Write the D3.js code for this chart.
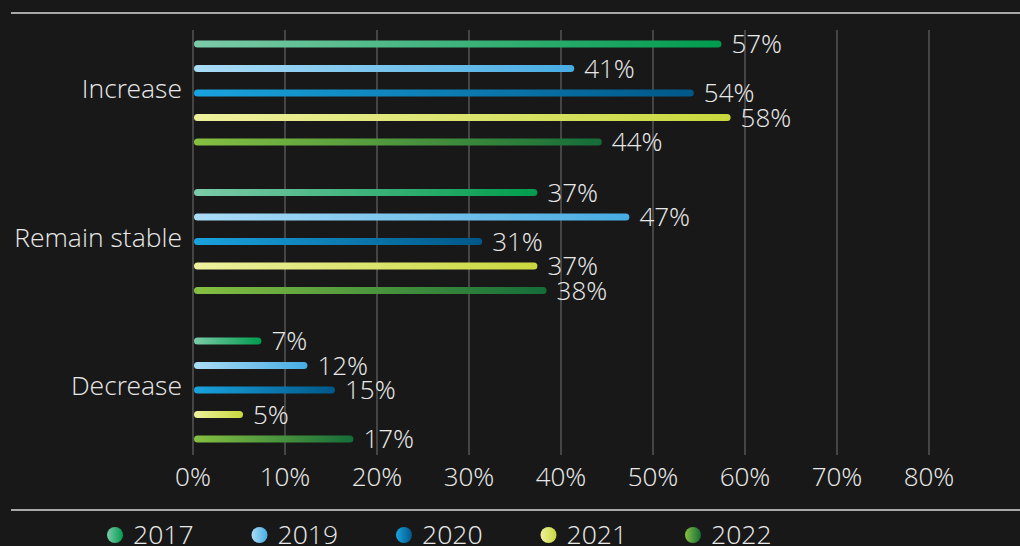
<!DOCTYPE html>
<html>
<head>
<meta charset="utf-8">
<script src="https://cdn.jsdelivr.net/npm/d3@7"></script>
<style>
  html, body { margin: 0; padding: 0; background: #181818; }
  svg { display: block; font-family: "Open Sans Light", "Open Sans", "Noto Sans", sans-serif; font-weight: 300; }
</style>
</head>
<body>
<div id="chart"></div>
<script>
// Data
const categories = ["Increase", "Remain stable", "Decrease"];
const years = ["2017", "2019", "2020", "2021", "2022"];
const values2017 = [57, 37, 7];
const values2019 = [41, 47, 12];
const values2020 = [54, 31, 15];
const values2021 = [58, 37, 5];
const values2022 = [44, 38, 17];
const seriesValues = [values2017, values2019, values2020, values2021, values2022];
const tickValues = [0, 10, 20, 30, 40, 50, 60, 70, 80];

// gradient stops per year: light on the left, dark on the right
const colorsLight = ["#7ccaa9", "#abdcf6", "#1aa3de", "#eef09e", "#86c042"];
const colorsDark = ["#009c4d", "#47ace3", "#005788", "#c9d83e", "#146c38"];

const width = 1020;
const height = 546;

const svg = d3.select("#chart")
    .append("svg")
    .attr("width", width)
    .attr("height", height);

svg.append("rect")
    .attr("width", width)
    .attr("height", height)
    .attr("fill", "#181818");

// gradients
const defs = svg.append("defs");
years.forEach(function(y, i) {
    const g = defs.append("linearGradient")
        .attr("id", "grad" + y)
        .attr("x1", "0%").attr("x2", "100%")
        .attr("y1", "0%").attr("y2", "0%");
    g.append("stop").attr("offset", "0%").attr("stop-color", colorsLight[i]);
    g.append("stop").attr("offset", "100%").attr("stop-color", colorsDark[i]);
});

// Scales
const xScale = d3.scaleLinear()
    .domain([0, 80])
    .range([193, 929]);

const yScale = d3.scaleBand()
    .domain(categories)
    .range([14.75, 460.25]);

const yInner = d3.scaleBand()
    .domain(years)
    .range([-57.25, 65.25]);

// frame lines
svg.append("line")
    .attr("x1", 11).attr("x2", width)
    .attr("y1", 13).attr("y2", 13)
    .attr("stroke", "#a8a8a8")
    .attr("stroke-width", 2);

svg.append("line")
    .attr("x1", 11).attr("x2", width)
    .attr("y1", 510).attr("y2", 510)
    .attr("stroke", "#a8a8a8")
    .attr("stroke-width", 2);

// gridlines
svg.append("g")
    .selectAll("line")
    .data(tickValues)
    .enter().append("line")
    .attr("x1", d => xScale(d))
    .attr("x2", d => xScale(d))
    .attr("y1", 30)
    .attr("y2", 455)
    .attr("stroke", "#555")
    .attr("stroke-width", 1.5);

// x axis labels
svg.append("g")
    .selectAll("text")
    .data(tickValues)
    .enter().append("text")
    .attr("x", d => xScale(d))
    .attr("y", 477)
    .attr("dy", "0.35em")
    .attr("text-anchor", "middle")
    .attr("fill", "#e8e8e8")
    .style("font-size", "26px")
    .text(d => d + "%");

// category labels
svg.append("g")
    .selectAll("text")
    .data(categories)
    .enter().append("text")
    .attr("x", 182)
    .attr("y", d => yScale(d) + yScale.bandwidth() / 2)
    .attr("dy", "0.35em")
    .attr("text-anchor", "end")
    .attr("fill", "#e8e8e8")
    .style("font-size", "26.5px")
    .text(d => d);

// bars
const barData = [];
categories.forEach(function(c, ci) {
    years.forEach(function(y, yi) {
        barData.push({ category: c, year: y, value: seriesValues[yi][ci] });
    });
});

const barY = d => yScale(d.category) + yScale.bandwidth() / 2 + yInner(d.year) + yInner.bandwidth() / 2;

const bars = svg.append("g")
    .selectAll("g")
    .data(barData)
    .enter().append("g");

bars.append("rect")
    .attr("x", xScale(0) + 1)
    .attr("y", d => barY(d) - 3.5)
    .attr("width", d => xScale(d.value) - xScale(0) + 3)
    .attr("height", 7)
    .attr("rx", 3.5)
    .attr("fill", d => "url(#grad" + d.year + ")");

bars.append("text")
    .attr("x", d => xScale(d.value) + 14)
    .attr("y", d => barY(d))
    .attr("dy", "0.35em")
    .attr("fill", "#e8e8e8")
    .style("font-size", "26px")
    .text(d => d.value + "%");

// legend
const legend = svg.append("g")
    .selectAll("g")
    .data(years)
    .enter().append("g")
    .attr("transform", (d, i) => "translate(" + (115 + i * 144.5) + ",535)");

legend.append("circle")
    .attr("r", 8)
    .attr("fill", d => "url(#grad" + d + ")");

legend.append("text")
    .attr("x", 18)
    .attr("dy", "0.35em")
    .attr("fill", "#e8e8e8")
    .style("font-size", "26.5px")
    .text(d => d);
</script>
</body>
</html>
